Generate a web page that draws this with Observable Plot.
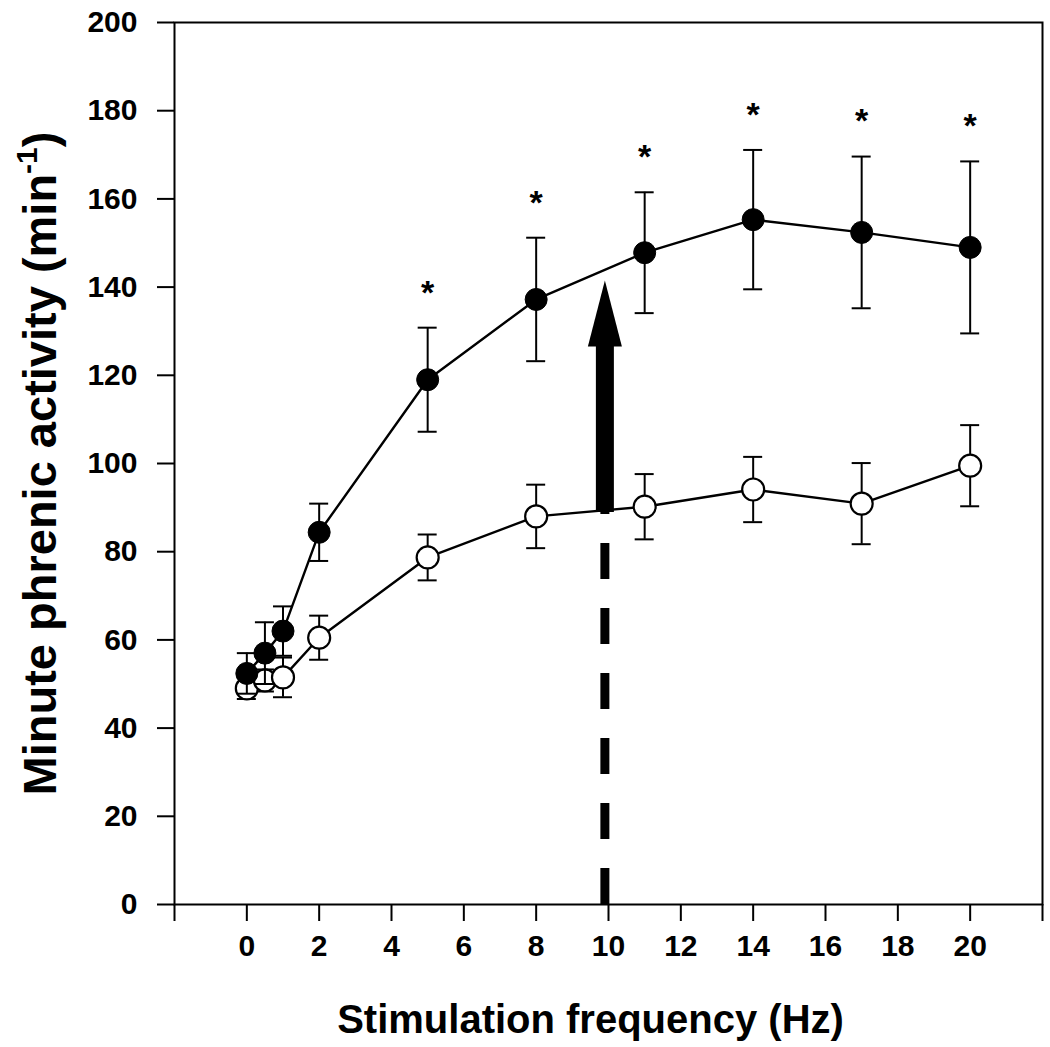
<!DOCTYPE html>
<html>
<head>
<meta charset="utf-8">
<script src="https://cdn.jsdelivr.net/npm/d3@7"></script>
<script src="https://cdn.jsdelivr.net/npm/@observablehq/plot@0.6"></script>
<style>
  html, body { margin: 0; padding: 0; background: #fff; }
</style>
</head>
<body>
<div id="chart"></div>
<script>
// ---- data ----
const freq      = [0, 0.5, 1, 2, 5, 8, 11, 14, 17, 20];
const stimMean  = [52.4, 57, 62, 84.4, 119, 137.2, 147.8, 155.3, 152.4, 149];
const stimSE    = [4.6, 7, 5.6, 6.5, 11.8, 14, 13.7, 15.8, 17.2, 19.5];
const ctrlMean  = [49, 50.8, 51.5, 60.5, 78.7, 88, 90.2, 94.1, 90.9, 99.5];
const ctrlSE    = [2.4, 2.5, 4.5, 5, 5.2, 7.2, 7.4, 7.4, 9.2, 9.2];
const significant = [false, false, false, false, true, true, true, true, true, true];

const xTicks = [-2, 0, 2, 4, 6, 8, 10, 12, 14, 16, 18, 20, 22];
const xTickLabels = ["", "0", "2", "4", "6", "8", "10", "12", "14", "16", "18", "20", ""];
const yTicks = [0, 20, 40, 60, 80, 100, 120, 140, 160, 180, 200];
const xDomain = [-2, 22];
const yDomain = [0, 200];

const arrowFreq = 9.9;   // Hz
const arrowFrom = 88.9;  // control level
const arrowTo   = 141.5; // stimulated level

const xTitle = "Stimulation frequency (Hz)";
const yTitleMain = "Minute phrenic activity (min";
const yTitleSup = "-1";
const yTitleEnd = ")";

// ---- tables built from the arrays ----
const stim = freq.map((f, i) => ({f, m: stimMean[i], lo: stimMean[i] - stimSE[i], hi: stimMean[i] + stimSE[i], sig: significant[i]}));
const ctrl = freq.map((f, i) => ({f, m: ctrlMean[i], lo: ctrlMean[i] - ctrlSE[i], hi: ctrlMean[i] + ctrlSE[i]}));
const arrow = [{f: arrowFreq, base: yDomain[0], from: arrowFrom, to: arrowTo}];

const arrowHead = {
  draw(ctx) {
    ctx.moveTo(0, 0);
    ctx.lineTo(17, 66);
    ctx.lineTo(-17, 66);
    ctx.closePath();
  }
};

function errorBars(data) {
  return [
    Plot.ruleX(data, {x: "f", y1: "lo", y2: "hi", stroke: "black", strokeWidth: 2}),
    Plot.ruleY(data, {x1: "f", x2: "f", y: "hi", insetLeft: -9.5, insetRight: -9.5, stroke: "black", strokeWidth: 2}),
    Plot.ruleY(data, {x1: "f", x2: "f", y: "lo", insetLeft: -9.5, insetRight: -9.5, stroke: "black", strokeWidth: 2})
  ];
}

const chart = Plot.plot({
  width: 1050,
  height: 1047,
  marginLeft: 174,
  marginRight: 8,
  marginTop: 22,
  marginBottom: 143,
  style: {
    fontFamily: "'Liberation Sans', Arial, Helvetica, sans-serif",
    fontWeight: "bold",
    fontSize: "30px",
    color: "black",
    background: "white",
    overflow: "visible"
  },
  x: {domain: xDomain},
  y: {domain: yDomain},
  marks: [
    Plot.frame({stroke: "black", strokeWidth: 2}),
    Plot.axisX({ticks: xTicks, tickFormat: (d) => xTickLabels[xTicks.indexOf(d)], tickSize: 17, tickPadding: 13, strokeWidth: 2, label: null}),
    Plot.axisY({ticks: yTicks, tickSize: 17, tickPadding: 20, strokeWidth: 2, label: null}),

    // control series (open circles)
    ...errorBars(ctrl),
    Plot.line(ctrl, {x: "f", y: "m", stroke: "black", strokeWidth: 2.4}),
    Plot.dot(ctrl, {x: "f", y: "m", r: 11, fill: "white", stroke: "black", strokeWidth: 2.2}),

    // stimulated series (filled circles)
    ...errorBars(stim),
    Plot.line(stim, {x: "f", y: "m", stroke: "black", strokeWidth: 2.4}),
    Plot.dot(stim, {x: "f", y: "m", r: 11, fill: "black", stroke: "black", strokeWidth: 1}),

    // significance asterisks
    Plot.text(stim.filter(d => d.sig), {x: "f", y: "hi", text: () => "*", dy: -35, fontSize: 34, lineAnchor: "middle"}),

    // dashed line + arrow
    Plot.ruleX(arrow, {x: "f", y1: "base", y2: "from", stroke: "black", strokeWidth: 9, strokeDasharray: "36,29"}),
    Plot.ruleX(arrow, {x: "f", y1: "to", y2: "from", insetTop: 50, stroke: "black", strokeWidth: 18}),
    Plot.dot(arrow, {x: "f", y: "to", symbol: arrowHead, fill: "black", stroke: "none"}),

    // axis titles
    Plot.text([xTitle], {frameAnchor: "bottom", text: d => d, dy: 128, dx: -18, fontSize: 40, lineAnchor: "bottom"}),
    Plot.text([yTitleMain + yTitleSup + yTitleEnd], {frameAnchor: "left", text: d => d, rotate: -90, dx: -119, fontSize: 47, lineAnchor: "bottom"})
  ]
});

document.getElementById("chart").appendChild(chart);

// superscript for the y title, then re-centre it by measuring its length
d3.select(chart).selectAll("text")
  .filter(function() { return this.textContent === yTitleMain + yTitleSup + yTitleEnd; })
  .each(function() {
    const t = d3.select(this);
    t.text(null);
    t.append("tspan").text(yTitleMain);
    t.append("tspan").attr("font-size", "30px").attr("dy", "-19").text(yTitleSup);
    t.append("tspan").attr("dy", "19").text(yTitleEnd);
    const len = this.getComputedTextLength();
    t.attr("text-anchor", "start").attr("x", -len / 2);
  });
</script>
</body>
</html>
